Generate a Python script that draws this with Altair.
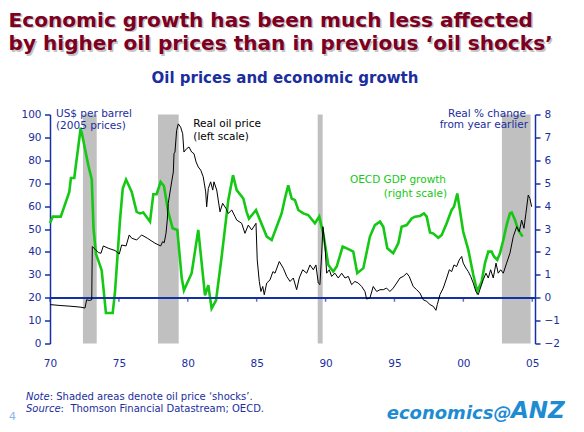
import altair as alt
import pandas as pd

# ---------------- data ----------------
oil_year = [1970.00, 1970.73, 1971.45, 1972.18, 1972.54, 1972.66, 1972.85, 1973.03, 1973.07, 1973.27,
            1973.51, 1973.70, 1973.87, 1974.23, 1974.72, 1975.03, 1975.20, 1975.52, 1975.75, 1975.93,
            1976.29, 1976.65, 1977.06, 1977.26, 1977.62, 1978.03, 1978.18, 1978.29, 1978.42, 1978.51,
            1978.58, 1978.83, 1978.95, 1979.00, 1979.07, 1979.19, 1979.31, 1979.48, 1979.63, 1979.72,
            1979.92, 1980.09, 1980.28, 1980.45, 1980.60, 1980.76, 1980.94, 1981.12, 1981.30, 1981.37,
            1981.49, 1981.66, 1981.81, 1981.90, 1982.10, 1982.34, 1982.53, 1982.77, 1982.94, 1983.19,
            1983.43, 1983.55, 1983.91, 1984.15, 1984.39, 1984.64, 1984.95, 1985.04, 1985.19, 1985.31,
            1985.44, 1985.55, 1985.73, 1985.97, 1986.18, 1986.33, 1986.64, 1986.93, 1987.18, 1987.42,
            1987.66, 1987.90, 1988.09, 1988.34, 1988.63, 1988.87, 1989.11, 1989.30, 1989.47, 1989.59,
            1989.72, 1989.81, 1989.96, 1990.08, 1990.27, 1990.44, 1990.68, 1990.92, 1991.17, 1991.41,
            1991.65, 1991.89, 1992.13, 1992.37, 1992.62, 1992.86, 1992.98, 1993.22, 1993.46, 1993.71,
            1993.95, 1994.19, 1994.43, 1994.67, 1994.91, 1995.16, 1995.40, 1995.64, 1995.89, 1996.07,
            1996.36, 1996.61, 1996.85, 1997.09, 1997.34, 1997.58, 1997.82, 1998.01, 1998.11, 1998.30,
            1998.54, 1998.79, 1998.98, 1999.15, 1999.32, 1999.51, 1999.70, 1999.88, 1999.99, 2000.19,
            2000.36, 2000.53, 2000.72, 2000.91, 2001.08, 2001.20, 2001.44, 2001.64, 2001.81, 2001.98,
            2002.17, 2002.37, 2002.53, 2002.71, 2002.90, 2003.14, 2003.38, 2003.62, 2003.87, 2004.06,
            2004.23, 2004.40, 2004.54, 2004.71, 2004.83, 2004.96]
oil_price = [17.0, 16.6, 16.3, 15.9, 15.5, 19.1, 18.8, 19.1, 42.3, 41.2,
             39.7, 39.4, 42.6, 41.6, 40.6, 39.1, 43.0, 42.6, 47.4, 46.0,
             45.2, 47.4, 46.0, 45.2, 43.8, 42.6, 44.5, 44.0, 48.1, 53.9,
             61.2, 70.6, 74.9, 82.9, 83.6, 93.0, 95.9, 94.5, 91.6, 83.6,
             85.1, 85.8, 83.6, 82.9, 79.3, 77.1, 75.7, 72.8, 66.2, 59.7,
             67.7, 70.6, 67.0, 70.6, 67.0, 57.5, 61.2, 59.0, 56.8, 58.3,
             55.4, 53.9, 52.5, 48.1, 51.7, 49.6, 52.5, 36.5, 27.1, 22.7,
             24.9, 21.3, 26.4, 27.8, 31.4, 30.7, 35.8, 32.9, 29.3, 27.1,
             28.6, 23.5, 28.6, 32.2, 30.7, 34.3, 32.2, 34.3, 26.4, 25.7,
             39.4, 51.0, 42.3, 30.7, 32.2, 29.3, 30.7, 28.6, 30.7, 28.6,
             29.3, 25.7, 27.1, 26.4, 24.9, 22.7, 19.4, 19.9, 24.9, 22.7,
             23.5, 23.5, 24.2, 22.7, 24.2, 26.4, 28.6, 29.3, 30.7, 29.3,
             24.9, 23.5, 22.0, 19.1, 18.4, 17.0, 16.2, 14.5, 17.0, 21.3,
             24.2, 28.6, 32.2, 31.4, 34.3, 33.6, 36.5, 38.0, 35.1, 32.9,
             31.4, 29.3, 26.4, 22.7, 21.3, 23.5, 27.8, 30.7, 28.6, 32.2,
             28.6, 35.1, 30.7, 32.2, 30.7, 35.1, 39.4, 46.6, 51.0, 48.8,
             53.9, 50.3, 56.8, 64.8, 63.3, 59.7]

gdp_year = [1970.00, 1970.20, 1970.78, 1971.40, 1971.52, 1971.76, 1972.23, 1972.78, 1973.03, 1973.16,
            1973.34, 1973.58, 1973.75, 1974.06, 1974.55, 1974.72, 1975.08, 1975.28, 1975.52, 1975.93,
            1976.29, 1976.53, 1976.77, 1977.26, 1977.50, 1977.74, 1978.03, 1978.27, 1978.58, 1978.90,
            1979.24, 1979.56, 1979.72, 1980.28, 1980.76, 1981.25, 1981.49, 1981.73, 1982.05, 1982.46,
            1982.94, 1983.28, 1983.55, 1984.03, 1984.27, 1984.44, 1984.95, 1985.24, 1985.73, 1986.09,
            1986.45, 1986.81, 1987.05, 1987.29, 1987.54, 1987.78, 1988.02, 1988.38, 1988.74, 1989.23,
            1989.54, 1989.83, 1990.20, 1990.56, 1990.81, 1991.24, 1991.77, 1992.01, 1992.30, 1992.74,
            1993.22, 1993.58, 1993.95, 1994.19, 1994.48, 1994.91, 1995.28, 1995.52, 1995.89, 1996.25,
            1996.49, 1996.85, 1997.14, 1997.34, 1997.58, 1997.82, 1998.18, 1998.43, 1998.79, 1999.15,
            1999.32, 1999.56, 1999.99, 2000.36, 2000.72, 2001.01, 2001.33, 2001.57, 2001.81, 2002.05,
            2002.22, 2002.46, 2002.66, 2002.90, 2003.14, 2003.38, 2003.51, 2003.75, 2003.98, 2004.30]
gdp_growth = [3.26, 3.54, 3.54, 4.62, 5.23, 5.23, 7.42, 5.78, 5.17, 3.00,
              1.90, 1.50, 1.19, -0.67, -0.67, 0.27, 3.39, 4.77, 5.16, 4.62,
              3.75, 3.68, 3.72, 3.32, 4.52, 4.52, 5.06, 4.88, 3.75, 3.03,
              2.96, 0.86, 0.32, 1.07, 2.96, 0.10, 0.55, -0.47, -0.12, 1.80,
              4.26, 5.35, 4.70, 4.33, 3.75, 3.45, 3.83, 3.39, 2.67, 2.52,
              3.10, 3.68, 4.33, 4.91, 4.33, 4.26, 3.83, 3.68, 3.61, 3.25,
              3.54, 2.81, 1.43, 1.14, 1.36, 2.23, 2.09, 2.01, 1.07, 1.29,
              2.67, 3.17, 3.32, 3.10, 2.16, 1.94, 2.38, 3.10, 3.17, 3.46,
              3.54, 3.57, 3.68, 3.54, 2.85, 2.80, 2.62, 2.74, 3.25, 3.83,
              3.97, 4.55, 2.88, 2.09, 1.00, 0.27, 0.71, 1.51, 2.01, 2.01,
              1.80, 1.65, 1.94, 2.52, 3.17, 3.68, 3.72, 3.39, 2.96, 2.67]

shock_start = [1972.39, 1977.84, 1989.43, 2002.80]
shock_end = [1973.39, 1979.34, 1989.79, 2004.88]

x_label_years = [1970, 1975, 1980, 1985, 1990, 1995, 2000, 2005]
left_ticks = [0, 10, 20, 30, 40, 50, 60, 70, 80, 90, 100]
right_ticks = [-2, -1, 0, 1, 2, 3, 4, 5, 6, 7, 8]

# ---------------- style ----------------
FONT = "DejaVu Sans"
BLUE = "#1B2E9E"
AXIS_BLUE = "#1530A6"
GREEN = "#14C814"
MAROON = "#7D0022"
LOGO = "#1E8CD2"

oil_df = pd.DataFrame({"year": oil_year, "price": oil_price})
gdp_df = pd.DataFrame({"year": gdp_year, "growth": gdp_growth})
shock_df = pd.DataFrame({"start": shock_start, "end": shock_end})
tick_df = pd.DataFrame({"year": x_label_years})

x_scale = alt.Scale(domain=[1970, 2005.2], nice=False, zero=False)
x_axis = alt.Axis(values=x_label_years, labelExpr="format(datum.value % 100, '02d')",
                  domain=False, ticks=False, grid=False, labelColor=BLUE, labelFont=FONT,
                  labelFontSize=10.5, labelPadding=22.5, labelBaseline="alphabetic",
                  labelFlush=False, labelOverlap=False, title=None)


def X(field):
    return alt.X(f"{field}:Q", scale=x_scale, axis=x_axis, title=None)


shades = alt.Chart(shock_df).mark_rect(color="#C0C0C0").encode(
    x=X("start"), x2="end")

right_axis = alt.Axis(orient="right", values=right_ticks, grid=False, domainColor=AXIS_BLUE,
                      domainWidth=1.5, tickColor=AXIS_BLUE, tickWidth=1.5, tickSize=5,
                      labelColor=BLUE, labelFont=FONT, labelFontSize=10.5, labelPadding=4,
                      labelOverlap=False, labelFlush=False, title=None)
left_axis = alt.Axis(orient="left", values=left_ticks, grid=False, domainColor=AXIS_BLUE,
                     domainWidth=1.5, tickColor=AXIS_BLUE, tickWidth=1.5, tickSize=5.5,
                     labelColor=BLUE, labelFont=FONT, labelFontSize=10.5, labelPadding=3.5,
                     labelOverlap=False, labelFlush=False, title=None)
right_scale = alt.Scale(domain=[-2, 8], nice=False, zero=False)
left_scale = alt.Scale(domain=[0, 100], nice=False)

green = alt.Chart(gdp_df).mark_line(color=GREEN, strokeWidth=2.6).encode(
    x=X("year"), y=alt.Y("growth:Q", scale=right_scale, axis=right_axis, title=None))
zero_rule = alt.Chart(tick_df).mark_rule(color=AXIS_BLUE, strokeWidth=1.5).encode(
    y=alt.YDatum(0, scale=right_scale, axis=right_axis))
zero_ticks = alt.Chart(tick_df).mark_tick(color=AXIS_BLUE, orient="vertical", size=4,
                                          thickness=1.5, yOffset=2).encode(
    x=X("year"), y=alt.YDatum(0, scale=right_scale, axis=right_axis))
right_group = alt.layer(green, zero_rule, zero_ticks)

black = alt.Chart(oil_df).mark_line(color="#000000", strokeWidth=1).encode(
    x=X("year"), y=alt.Y("price:Q", scale=left_scale, axis=left_axis, title=None))


def txt(label, x, y, size=10.5, color=BLUE, align="left", weight="normal", style="normal",
        dx=0, dy=0):
    return alt.Chart(pd.DataFrame({"label": [label]})).mark_text(
        align=align, baseline="alphabetic", font=FONT, fontSize=size, color=color,
        fontWeight=weight, fontStyle=style, dx=dx, dy=dy
    ).encode(text="label:N", x=alt.value(x), y=alt.value(y))


title1 = "Economic growth has been much less affected"
title2 = "by higher oil prices than in previous \u2018oil shocks\u2019"
TS = 20.1
texts = [
    txt(title1, -41.5, -88, size=TS, color="#C4C4C4", weight="bold", dx=1.5, dy=1.5),
    txt(title2, -41.5, -64.5, size=TS, color="#C4C4C4", weight="bold", dx=1.5, dy=1.5),
    txt(title1, -41.5, -88, size=TS, color=MAROON, weight="bold"),
    txt(title2, -41.5, -64.5, size=TS, color=MAROON, weight="bold"),
    txt("Oil prices and economic growth", 235, -31.5, size=15, color=BLUE, weight="bold",
        align="center"),
    txt("US$ per barrel", 6, 2.2),
    txt("(2005 prices)", 6, 14),
    txt("Real oil price", 143.3, 12.8, color="#000000"),
    txt("(left scale)", 143.3, 25.5, color="#000000"),
    txt("OECD GDP growth", 396, 68.2, color=GREEN, align="right"),
    txt("(right scale)", 397, 82.2, color=GREEN, align="right"),
    txt("Real % change", 476, 2.2, align="right"),
    txt("from year earlier", 478, 13.8, align="right"),
    txt("Note", -24, 285.5, size=10, style="italic"),
    txt(": Shaded areas denote oil price \u2018shocks\u2019.", -0.3, 285.5, size=10),
    txt("Source", -24, 297.5, size=10, style="italic"),
    txt(":", 10.6, 297.5, size=10),
    txt("Thomson Financial Datastream; OECD.", 20.4, 297.5, size=10),
    txt("4", -41, 305.5, size=11, color="#8DB4E2"),
    txt("economics@", 336.7, 304.5, size=18, color=LOGO, weight="bold", style="italic"),
    txt("ANZ", 461, 303.8, size=23, color=LOGO, weight="bold", style="italic"),
]

chart = alt.layer(shades, right_group, black, *texts).resolve_scale(
    y="independent"
).properties(
    width=485, height=229, autosize="none",
    padding={"left": 42, "top": 106.5, "right": 41, "bottom": 80.5},
).configure_view(stroke=None).configure_axis(grid=False)

chart.save("out.html", embed_options={"renderer": "svg", "actions": False})
